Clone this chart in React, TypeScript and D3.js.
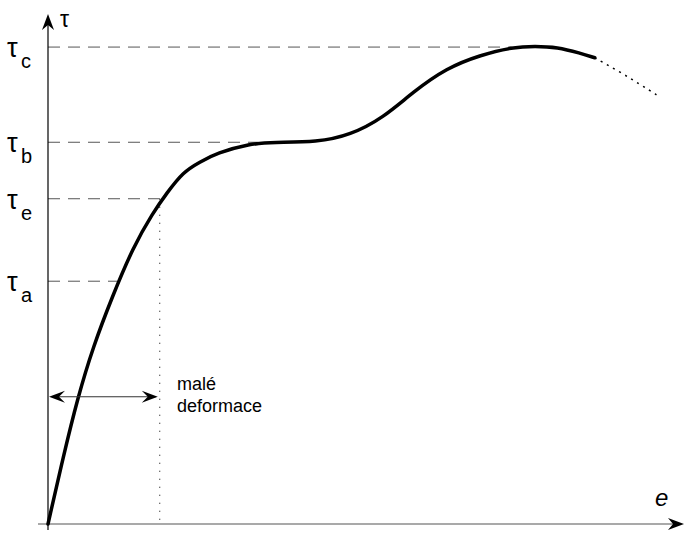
import React from "react";
import * as d3 from "d3";

const W = 684;
const H = 533;

// curve (e, tau) in relative units 0..100
const eSolid = [0, 2.4, 4.7, 7.1, 10.1, 13.4, 16.5, 18.7, 21.3, 23.9, 26.6, 31.8, 35.4, 42.4, 47.6, 52.8, 57.5, 62.8, 68.0, 73.2, 76.7, 80.2, 83.8, 86.1];
const tauSolid = [0, 13.2, 24.9, 34.8, 44.6, 54.4, 61.1, 65.0, 69.2, 71.1, 72.9, 74.7, 75.0, 75.0, 76.4, 79.8, 84.9, 89.6, 92.1, 93.7, 93.9, 93.7, 92.5, 91.6];
const eDotted = [86.1, 90.1, 93.2, 96.1];
const tauDotted = [91.6, 88.8, 86.4, 84.1];

const levelNames = ["c", "b", "e", "a"];
const levelValues = [93.7, 75.0, 63.9, 47.7];
const levelEnds = [73.0, 33.0, 17.6, 10.9];

const smallStrainEnd = 17.6;
const smallStrainTau = 25.0;
const smallStrainLabel = ["malé", "deformace"];

export default function App() {
  const x = d3.scaleLinear().domain([0, 100]).range([48, 683]);
  const y = d3.scaleLinear().domain([0, 100]).range([524, 15]);

  const line = d3
    .line<[number, number]>()
    .x((d) => x(d[0]))
    .y((d) => y(d[1]))
    .curve(d3.curveBasis);

  const solid = eSolid.map((e, i) => [e, tauSolid[i]] as [number, number]);
  const dotted = eDotted.map((e, i) => [e, tauDotted[i]] as [number, number]);

  const font = "'Liberation Sans', Arial, sans-serif";
  const x0 = x(0);
  const yA = y(smallStrainTau);
  const xE = x(smallStrainEnd);

  return (
    <svg width={W} height={H} style={{ position: "absolute", left: 0, top: 0, background: "#fff" }}>
      {levelValues.map((v, i) => (
        <line key={i} x1={x0} x2={x(levelEnds[i])} y1={y(v)} y2={y(v)} stroke="#555" strokeWidth={1} strokeDasharray="12,8" />
      ))}
      {levelValues.map((v, i) => (
        <g key={"l" + i} fontFamily={font} fill="#000">
          <text x={7} y={y(v) + 10} fontSize={27}>τ</text>
          <text x={21} y={y(v) + 21} fontSize={20}>{levelNames[i]}</text>
        </g>
      ))}
      <line x1={xE} x2={xE} y1={y(levelValues[2])} y2={524} stroke="#000" strokeWidth={1} strokeDasharray="1,7" />
      <line x1={x0} x2={x0} y1={530} y2={22} stroke="#000" strokeWidth={1.2} />
      <path d={`M${x0},14 L${x0 + 6},30 L${x0},25 L${x0 - 6},30 Z`} fill="#000" />
      <line x1={38} x2={678} y1={524} y2={524} stroke="#555" strokeWidth={1.2} />
      <path d={`M684,524 L668,518 L673,524 L668,530 Z`} fill="#000" />
      <text x={60} y={27} fontSize={23} fontFamily={font}>τ</text>
      <text x={655} y={506} fontSize={24} fontStyle="italic" fontFamily={font}>e</text>
      <path d={line(solid) || ""} fill="none" stroke="#000" strokeWidth={3.5} strokeLinecap="round" />
      <path d={line(dotted) || ""} fill="none" stroke="#000" strokeWidth={1.5} strokeDasharray="2,5" />
      <line x1={x0 + 4} x2={xE - 4} y1={yA} y2={yA} stroke="#333" strokeWidth={1.2} />
      <path d={`M${x0 + 1},${yA} L${x0 + 17},${yA - 6} L${x0 + 11},${yA} L${x0 + 17},${yA + 6} Z`} fill="#000" />
      <path d={`M${xE - 2},${yA} L${xE - 18},${yA - 6} L${xE - 12},${yA} L${xE - 18},${yA + 6} Z`} fill="#000" />
      <text x={177} y={390} fontSize={18} fontFamily={font}>{smallStrainLabel[0]}</text>
      <text x={177} y={412} fontSize={18} fontFamily={font}>{smallStrainLabel[1]}</text>
    </svg>
  );
}
